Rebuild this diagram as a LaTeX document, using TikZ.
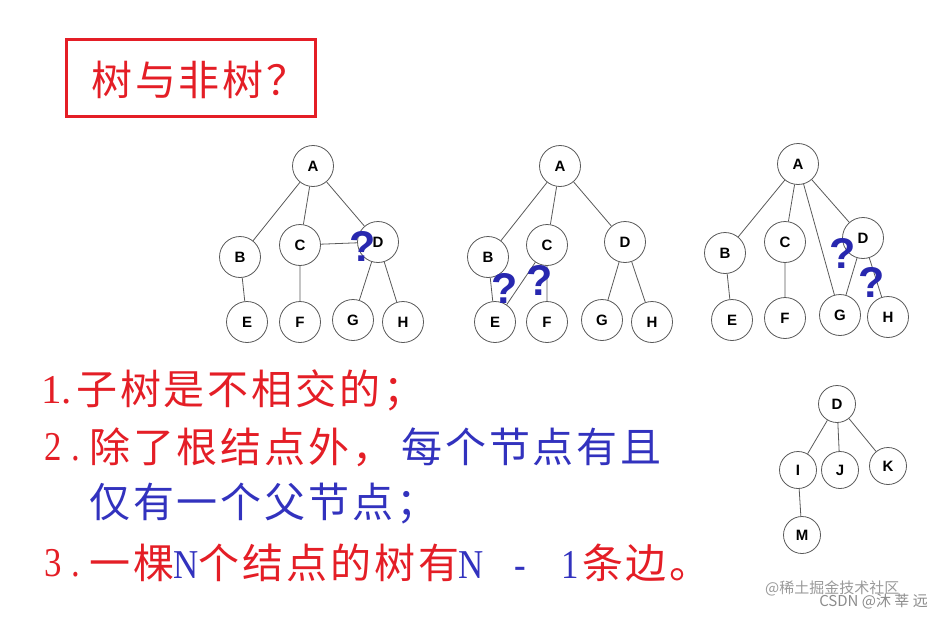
\documentclass[tikz,border=0pt]{standalone}
\usepackage{fontspec}
\usepackage{graphicx}
\setmainfont{Liberation Serif}
\newfontfamily\cjk{Noto Sans CJK SC}
\newfontfamily\cjkwide[LetterSpace=7]{Noto Sans CJK SC}
\newfontfamily\labfont{Liberation Sans}
\definecolor{tred}{RGB}{228,30,38}
\definecolor{tblue}{RGB}{50,50,190}
\definecolor{qblue}{RGB}{40,40,175}
% half-width cell for the latin letters and digits
\newcommand{\hw}[2][c]{\makebox[24.6pt][#1]{\rmfamily\scalebox{0.85}[1]{#2}}}
\tikzset{
    vert/.style={circle, draw=black!65, line width=0.8pt, minimum size=41pt, inner sep=0pt, font=\labfont\bfseries\fontsize{15}{15}\selectfont},
    link/.style={draw=black!65, line width=0.8pt},
    qmark/.style={text=qblue, inner sep=0pt, font=\labfont\bfseries\fontsize{43}{43}\selectfont},
    txt/.style={anchor=west, inner sep=0pt, font=\cjkwide\fontsize{41}{41}\selectfont},
    num/.style={anchor=west, inner sep=0pt, text=tred, font=\rmfamily\fontsize{41}{41}\selectfont},
}

\begin{document}
\begin{tikzpicture}[x=1pt, y=-1pt]
        \useasboundingbox (0,0) rectangle (942,618);
        % Title box.
            \draw[tred, line width=3pt] (66,40) rectangle (315,116);
            \node[txt, text=tred] (title) at (91,80) {树与非树？};
        % First tree.
            \node[vert] (a1) at (313,166) {A};
            \node[vert] (b1) at (240,257) {B};
            \node[vert] (c1) at (300,245) {C};
            \node[vert] (d1) at (378,242) {D};
            \node[vert] (e1) at (247,322) {E};
            \node[vert] (f1) at (300,322) {F};
            \node[vert] (g1) at (353,320) {G};
            \node[vert] (h1) at (403,322) {H};
            \draw[link] (a1)--(b1) (a1)--(c1) (a1)--(d1) (b1)--(e1) (c1)--(f1) (c1)--(d1) (d1)--(g1) (d1)--(h1);
        % Second tree.
            \node[vert] (a2) at (560,166) {A};
            \node[vert] (b2) at (488,257) {B};
            \node[vert] (c2) at (547,245) {C};
            \node[vert] (d2) at (625,242) {D};
            \node[vert] (e2) at (495,322) {E};
            \node[vert] (f2) at (547,322) {F};
            \node[vert] (g2) at (602,320) {G};
            \node[vert] (h2) at (652,322) {H};
            \draw[link] (a2)--(b2) (a2)--(c2) (a2)--(d2) (b2)--(e2) (c2)--(e2) (c2)--(f2) (d2)--(g2) (d2)--(h2);
        % Third tree.
            \node[vert] (a3) at (798,164) {A};
            \node[vert] (b3) at (725,253) {B};
            \node[vert] (c3) at (785,242) {C};
            \node[vert] (d3) at (863,238) {D};
            \node[vert] (e3) at (732,320) {E};
            \node[vert] (f3) at (785,318) {F};
            \node[vert] (g3) at (840,315) {G};
            \node[vert] (h3) at (888,317) {H};
            \draw[link] (a3)--(b3) (a3)--(c3) (a3)--(g3) (a3)--(d3) (b3)--(e3) (c3)--(f3) (d3)--(g3) (d3)--(h3);
        % Small tree.
            \node[vert, minimum size=37pt] (d4) at (837,404) {D};
            \node[vert, minimum size=37pt] (i4) at (798,470) {I};
            \node[vert, minimum size=37pt] (j4) at (840,470) {J};
            \node[vert, minimum size=37pt] (k4) at (888,466) {K};
            \node[vert, minimum size=37pt] (m4) at (802,535) {M};
            \draw[link] (d4)--(i4) (d4)--(j4) (d4)--(k4) (i4)--(m4);
        % Below nodes are the question marks.
            \node[qmark] (q1) at (363,246) {?};
            \node[qmark] (q2) at (505,288) {?};
            \node[qmark] (q3) at (540,280) {?};
            \node[qmark] (q4) at (843,253) {?};
            \node[qmark] (q5) at (872,282) {?};
        % The list of rules.
            \node[num] (n1) at (41,390) {1.};
            \node[txt, text=tred] (l1) at (76,390) {子树是不相交的；};
            \node[num] (n2) at (41,447) {\hw{2}\hw[l]{\,.}};
            \node[txt] (l2) at (89,447) {\textcolor{tred}{除了根结点外，}\hspace{8pt}\textcolor{tblue}{每个节点有且}};
            \node[txt, text=tblue] (l3) at (89,504) {仅有一个父节点；};
            \node[num] (n3) at (41,563) {\hw{3}\hw[l]{\,.}};
            \node[txt] (l4) at (89,563) {\textcolor{tred}{一棵}\textcolor{tblue}{\hw{N}}\textcolor{tred}{个结点的树有}\textcolor{tblue}{\hw{N}\hw{}\hw{-}\hw{}\hw{1}}\textcolor{tred}{条边。}};
        % Watermark.
            \node[font=\cjk\fontsize{15}{15}\selectfont, text=black!40, anchor=west, inner sep=0pt] (w1) at (765,588) {@稀土掘金技术社区};
            \node[font=\cjk\fontsize{15}{15}\selectfont, text=black!45, anchor=east, inner sep=0pt] (w2) at (928,601) {CSDN @沐 莘 远};
    \end{tikzpicture}
\end{document}
